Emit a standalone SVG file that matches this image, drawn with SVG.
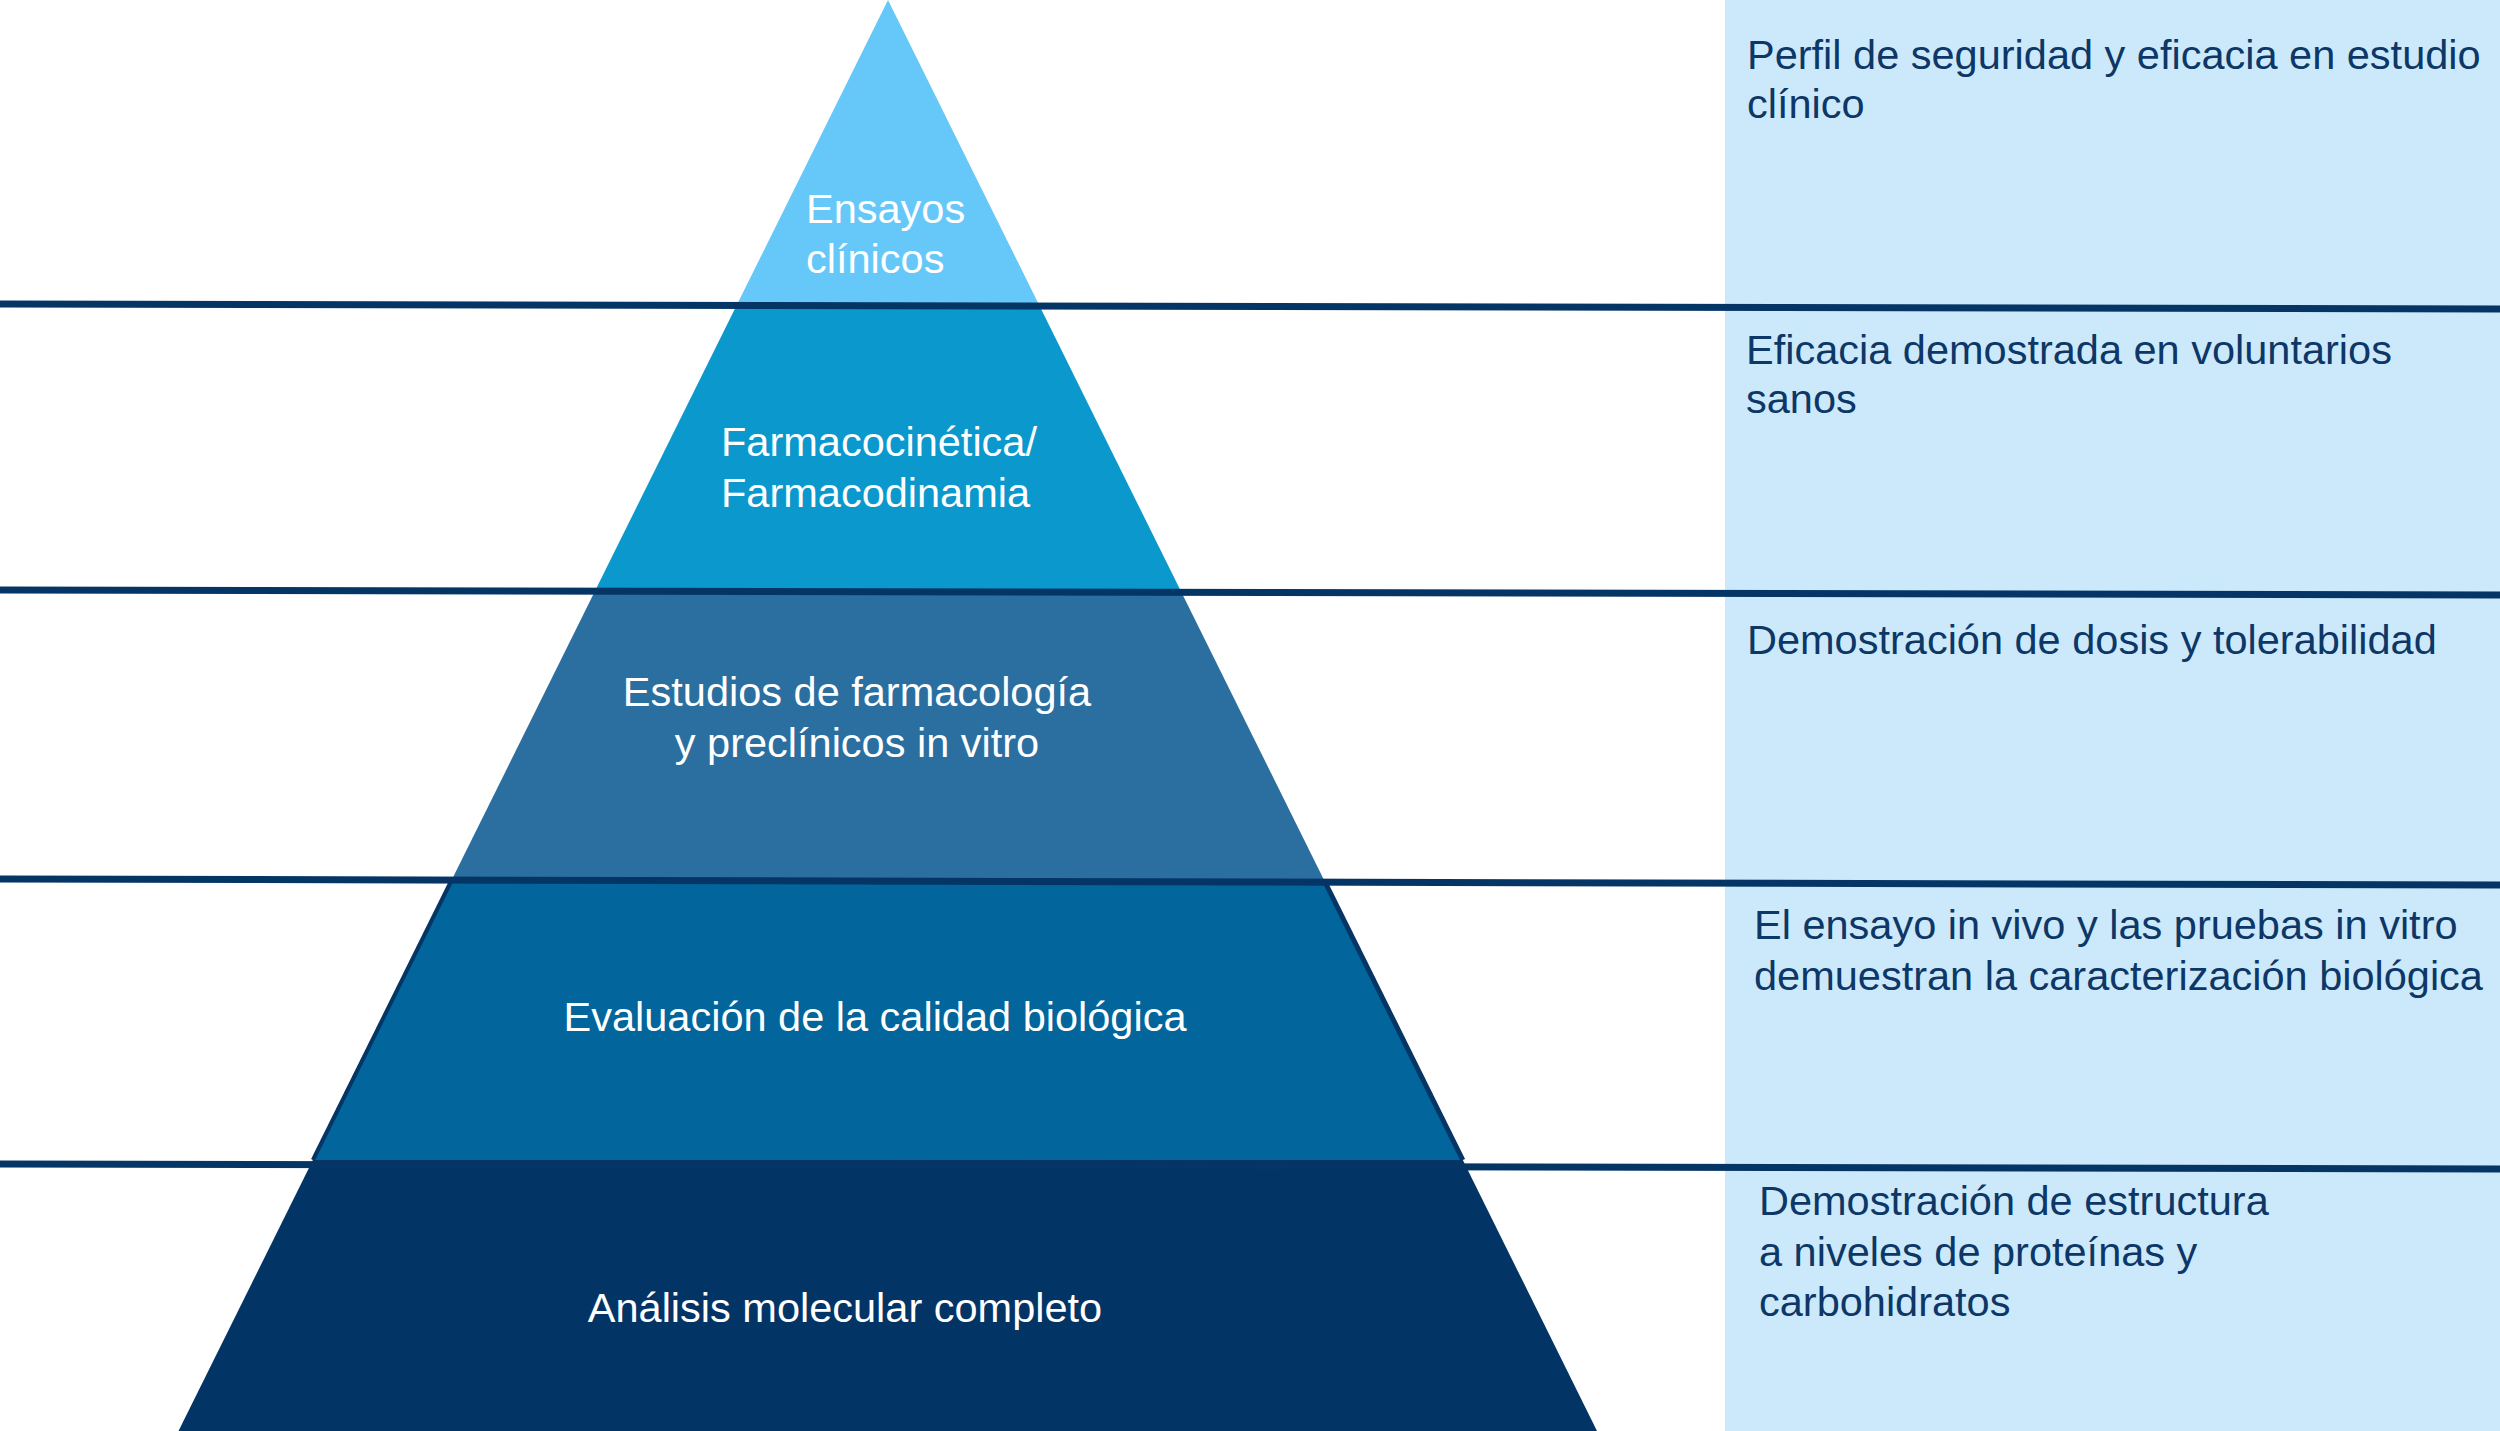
<svg xmlns="http://www.w3.org/2000/svg" width="2500" height="1431" viewBox="0 0 2500 1431">
  <style>
    .lbl { font-family: "Liberation Sans", Arial, sans-serif; font-size: 41.5px; fill: #ffffff; }
    .desc { font-family: "Liberation Sans", Arial, sans-serif; font-size: 41.5px; fill: #0d3766; }
    .sep { stroke: #043565; stroke-width: 7; fill: none; }
  </style>
  <rect x="0" y="0" width="2500" height="1431" fill="#ffffff"/>
  <rect id="panel" x="1725" y="0" width="775" height="1431" fill="#cce9fb"/>

  <g id="level1">
    <polygon points="888,0 1039.6,306 736.3,306" fill="#66c8f9"/>
    <text class="lbl" x="806" y="223">Ensayos</text>
    <text class="lbl" x="806" y="273">clínicos</text>
  </g>
  <g id="level2">
    <polygon points="736.3,306 1039.6,306 1181.3,592 594.5,592" fill="#0a98cd"/>
    <text class="lbl" x="721" y="456">Farmacocinética/</text>
    <text class="lbl" x="721" y="507">Farmacodinamia</text>
  </g>
  <g id="level3">
    <polygon points="594.5,592 1181.3,592 1325,882 450.7,882" fill="#2b6fa0"/>
    <text class="lbl" x="857" y="706" text-anchor="middle">Estudios de farmacología</text>
    <text class="lbl" x="857" y="757" text-anchor="middle">y preclínicos in vitro</text>
  </g>
  <g id="level4">
    <polygon points="450.7,882 1325,882 1462.8,1160 312.9,1160" fill="#02659b"/>
    <polyline points="450.7,882 312.9,1160" stroke="#043565" stroke-width="4" fill="none"/>
    <polyline points="1325,882 1462.8,1160" stroke="#043565" stroke-width="5" fill="none"/>
    <text class="lbl" x="875" y="1031" text-anchor="middle">Evaluación de la calidad biológica</text>
  </g>
  <g id="level5">
    <polygon points="312.9,1160 1462.8,1160 1597,1431 178.5,1431" fill="#033466"/>
    <text class="lbl" x="845" y="1322" text-anchor="middle">Análisis molecular completo</text>
  </g>

  <g id="connectors">
    <line class="sep" x1="0" y1="304" x2="2500" y2="309"/>
    <line class="sep" x1="0" y1="590" x2="2500" y2="595"/>
    <line class="sep" x1="0" y1="879" x2="2500" y2="885"/>
    <line class="sep" x1="0" y1="1164" x2="2500" y2="1169"/>
  </g>

  <g id="desc1">
    <text class="desc" x="1747" y="69">Perfil de seguridad y eficacia en estudio</text>
    <text class="desc" x="1747" y="118">clínico</text>
  </g>
  <g id="desc2">
    <text class="desc" x="1746" y="364">Eficacia demostrada en voluntarios</text>
    <text class="desc" x="1746" y="413">sanos</text>
  </g>
  <g id="desc3">
    <text class="desc" x="1747" y="654">Demostración de dosis y tolerabilidad</text>
  </g>
  <g id="desc4">
    <text class="desc" x="1754" y="939">El ensayo in vivo y las pruebas in vitro</text>
    <text class="desc" x="1754" y="990">demuestran la caracterización biológica</text>
  </g>
  <g id="desc5">
    <text class="desc" x="1759" y="1215">Demostración de estructura</text>
    <text class="desc" x="1759" y="1266">a niveles de proteínas y</text>
    <text class="desc" x="1759" y="1316">carbohidratos</text>
  </g>
</svg>
